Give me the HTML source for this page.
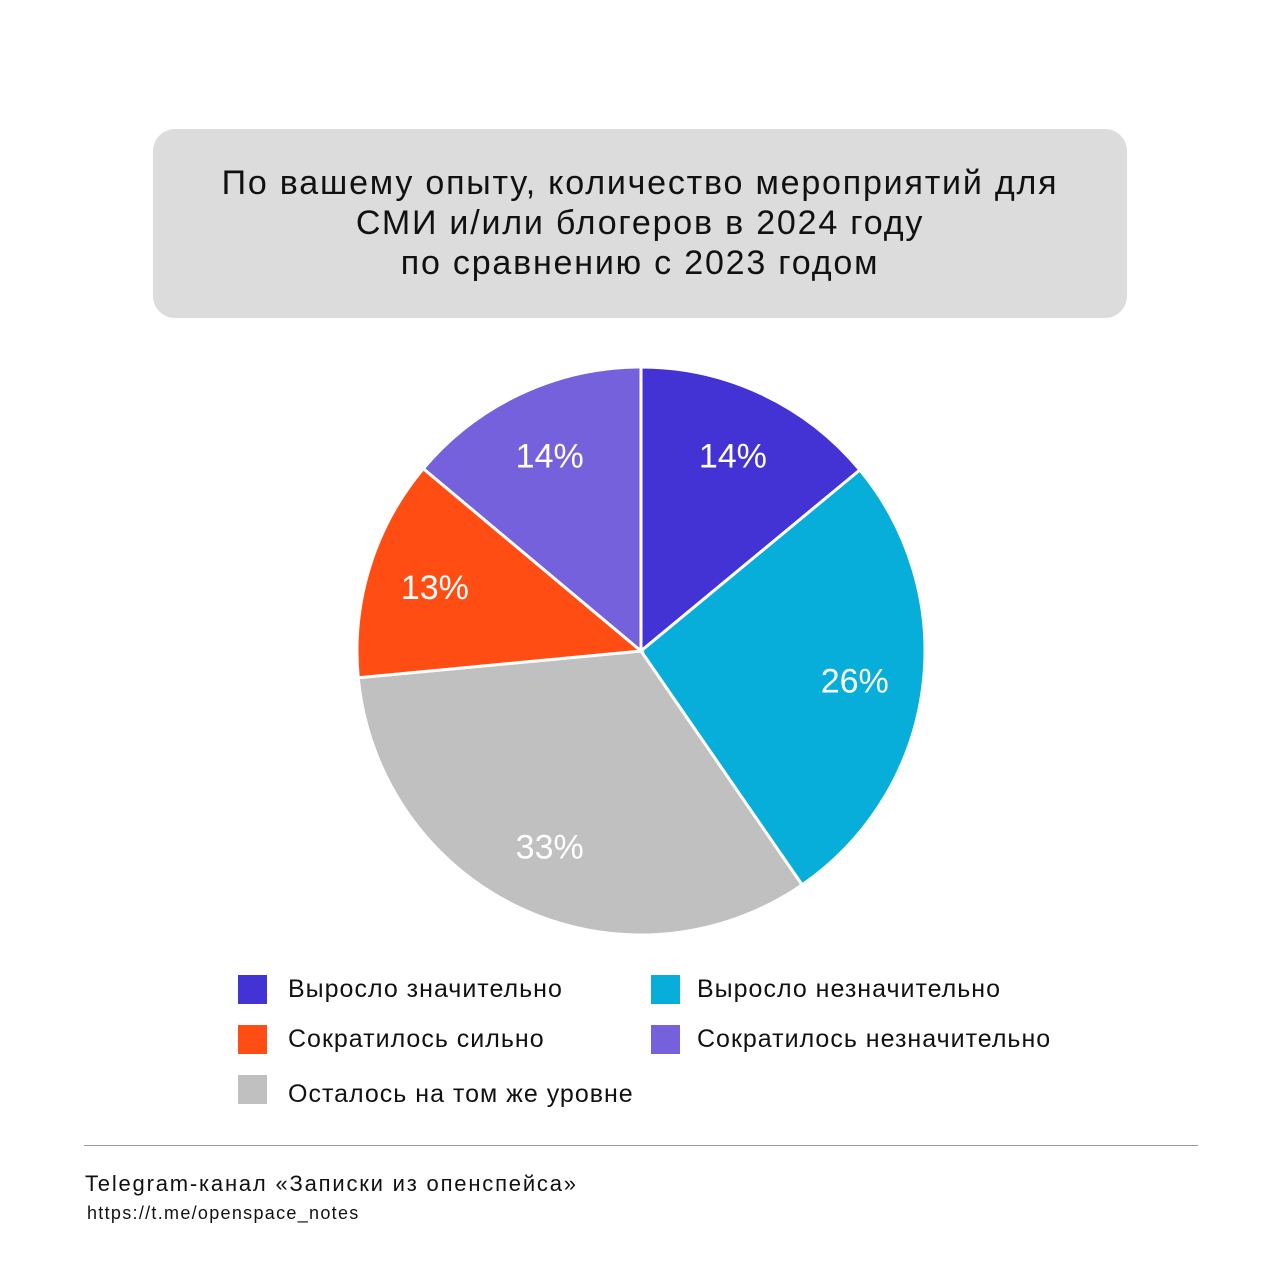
<!DOCTYPE html>
<html><head><meta charset="utf-8">
<style>
body{margin:0;width:1280px;height:1280px;background:#fff;font-family:"Liberation Sans",sans-serif;color:#111;position:relative;overflow:hidden}
#title{position:absolute;left:153px;top:129px;width:974px;height:189px;background:#dcdcdc;border-radius:22px}
.leg{position:absolute;font-size:25px;line-height:29px;letter-spacing:1px}
.sw{position:absolute;width:29px;height:29px}
</style></head><body>
<div id="title"></div>
<div style="position:absolute;left:100px;top:163px;width:1080px;text-align:center;font-size:34px;line-height:40px;letter-spacing:1.8px">По вашему опыту, количество мероприятий для<br>СМИ и/или блогеров в 2024 году<br>по сравнению с 2023 годом</div>
<svg id="pie" width="1280" height="1280" style="position:absolute;left:0;top:0"></svg>
<div class="sw" style="left:238px;top:975px;background:#4433d4"></div>
<div class="leg" style="left:288px;top:975px">Выросло значительно</div>
<div class="sw" style="left:651px;top:975px;background:#06aed9"></div>
<div class="leg" style="left:697px;top:975px">Выросло незначительно</div>
<div class="sw" style="left:238px;top:1025px;background:#ff4d14"></div>
<div class="leg" style="left:288px;top:1025px">Сократилось сильно</div>
<div class="sw" style="left:651px;top:1025px;background:#7661dd"></div>
<div class="leg" style="left:697px;top:1025px">Сократилось незначительно</div>
<div class="sw" style="left:238px;top:1075px;background:#c0c0c0"></div>
<div class="leg" style="left:288px;top:1080px">Осталось на том же уровне</div>
<div style="position:absolute;left:84px;top:1145px;width:1114px;height:1px;background:#999"></div>
<div style="position:absolute;left:85px;top:1171px;font-size:22px;letter-spacing:1.8px">Telegram-канал «Записки из опенспейса»</div>
<div style="position:absolute;left:87px;top:1203px;font-size:18px;letter-spacing:1.3px">https://t.me/openspace_notes</div>
<script>
const categories=["Выросло значительно","Выросло незначительно","Осталось на том же уровне","Сократилось сильно","Сократилось незначительно"];
const values=[14,26.4,33.1,12.6,13.9];
const colors=["#4433d4","#06aed9","#c0c0c0","#ff4d14","#7661dd"];
const labels=["14%","26%","33%","13%","14%"];
const cx=641,cy=651,R=284,NS="http://www.w3.org/2000/svg";
const svg=document.getElementById('pie');
const total=values.reduce((a,b)=>a+b,0);
function pt(a,r){return [cx+r*Math.sin(a),cy-r*Math.cos(a)];}
let acc=0;
values.forEach((v,i)=>{
  const a0=acc/total*2*Math.PI;acc+=v;const a1=acc/total*2*Math.PI;
  const p0=pt(a0,R),p1=pt(a1,R);
  const p=document.createElementNS(NS,'path');
  p.setAttribute('d',`M${cx},${cy}L${p0[0]},${p0[1]}A${R},${R} 0 ${a1-a0>Math.PI?1:0} 1 ${p1[0]},${p1[1]}Z`);
  p.setAttribute('fill',colors[i]);p.setAttribute('stroke','#fff');p.setAttribute('stroke-width','3');
  
  
  svg.appendChild(p);
  const m=(a0+a1)/2,lp=pt(m,R*0.76);
  const t=document.createElementNS(NS,'text');
  t.setAttribute('x',lp[0]);t.setAttribute('y',lp[1]+12);t.setAttribute('text-anchor','middle');
  t.setAttribute('fill','#fff');t.setAttribute('font-size','34');t.setAttribute('font-family','Liberation Sans, sans-serif');
  t.textContent=labels[i];
  
  
  svg.appendChild(t);
});
</script>
</body></html>
